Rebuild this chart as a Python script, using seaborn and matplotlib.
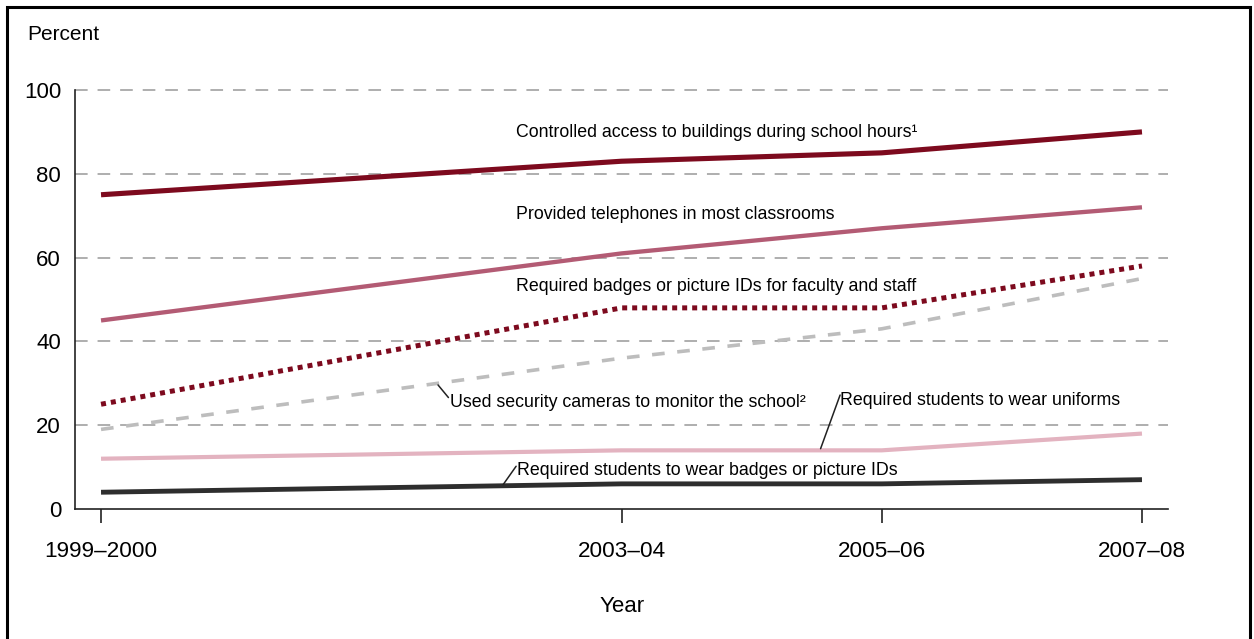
import matplotlib
matplotlib.use("Agg")
import matplotlib.pyplot as plt
import seaborn as sns
import pandas as pd
from matplotlib.patches import Rectangle

# School years and their positions on a numeric time axis
years = ["1999–2000", "2003–04", "2005–06", "2007–08"]
year_pos = [2000, 2004, 2006, 2008]

controlled_access = [75, 83, 85, 90]
telephones = [45, 61, 67, 72]
staff_badges = [25, 48, 48, 58]
cameras = [19, 36, 43, 55]
uniforms = [12, 14, 14, 18]
student_badges = [4, 6, 6, 7]

series_names = [
    "Controlled access to buildings during school hours¹",
    "Provided telephones in most classrooms",
    "Required badges or picture IDs for faculty and staff",
    "Used security cameras to monitor the school²",
    "Required students to wear uniforms",
    "Required students to wear badges or picture IDs",
]
series_values = [controlled_access, telephones, staff_badges, cameras, uniforms, student_badges]

sns.set_style("white")
plt.rcParams["font.family"] = ["Liberation Sans", "DejaVu Sans"]
plt.rcParams["text.color"] = "black"
plt.rcParams["xtick.color"] = "black"
plt.rcParams["ytick.color"] = "black"
plt.rcParams["xtick.labelcolor"] = "black"
plt.rcParams["ytick.labelcolor"] = "black"

fig = plt.figure(figsize=(12.54, 6.39), dpi=100)
ax = fig.add_axes([75 / 1254, 1 - 509 / 639, (1168 - 75) / 1254, (509 - 90) / 639])

styles = [
    dict(color="#7d0a1e", lw=3.7, ls="-"),
    dict(color="#b35b74", lw=3.1, ls="-"),
    dict(color="#7d0a1e", lw=3.6, ls=(0, (1, 1))),
    dict(color="#bdbdbd", lw=2.6, ls=(0, (3.5, 3.5))),
    dict(color="#e3b3c0", lw=3.0, ls="-"),
    dict(color="#2e2e2e", lw=3.5, ls="-"),
]

df = pd.DataFrame({
    "pos": year_pos * len(series_names),
    "value": [v for vals in series_values for v in vals],
    "series": [n for n in series_names for _ in year_pos],
})

# draw from bottom to top so the upper series sit over the lower ones
for name, st in reversed(list(zip(series_names, styles))):
    sub = df[df["series"] == name]
    sns.lineplot(data=sub, x="pos", y="value", ax=ax, color=st["color"],
                 linewidth=st["lw"], linestyle=st["ls"], legend=False,
                 solid_capstyle="butt", dash_capstyle="butt", zorder=3)

ax.set_xlim(1999.8, 2008.2)
ax.set_ylim(0, 100)
ax.set_xticks(year_pos)
ax.set_xticklabels(years)
ax.set_yticks([0, 20, 40, 60, 80, 100])
ax.set_xlabel("")
ax.set_ylabel("")

for yv in [20, 40, 60, 80, 100]:
    ax.axhline(yv, color="#a8a8a8", lw=1.3, ls=(0, (7, 5.5)), zorder=1, clip_on=False)

for side in ["top", "right"]:
    ax.spines[side].set_visible(False)
for side in ["left", "bottom"]:
    ax.spines[side].set_color("#222222")
    ax.spines[side].set_linewidth(1.2)

ax.tick_params(axis="x", direction="out", length=10, width=1.2, color="#222222",
               labelsize=16.2, pad=13, bottom=True)
ax.tick_params(axis="y", length=0, labelsize=16, pad=10, left=False)

# series labels
lab_fs = 12.8
ax.text(2003.19, 89.8, series_names[0], fontsize=lab_fs, va="center", ha="left")
ax.text(2003.19, 70.2, series_names[1], fontsize=lab_fs, va="center", ha="left")
ax.text(2003.19, 53.0, series_names[2], fontsize=lab_fs, va="center", ha="left")
ax.text(2002.68, 25.3, series_names[3], fontsize=lab_fs, va="center", ha="left")
ax.text(2005.68, 25.8, series_names[4], fontsize=lab_fs, va="center", ha="left")
ax.text(2003.20, 9.1, series_names[5], fontsize=lab_fs, va="center", ha="left")

# leader lines from labels to their lines
ax.plot([2002.59, 2002.67], [29.6, 26.6], color="#222222", lw=1.1, zorder=4)
ax.plot([2005.53, 2005.68], [14.4, 27.2], color="#222222", lw=1.1, zorder=4)
ax.plot([2003.09, 2003.19], [5.8, 10.2], color="#222222", lw=1.1, zorder=4)

fig.text(27 / 1254, 1 - 35 / 639, "Percent", fontsize=15, va="center", ha="left")
fig.text(622 / 1254, 1 - 607 / 639, "Year", fontsize=16, va="center", ha="center")

fig.patches.append(Rectangle((7 / 1254, -0.05), (1250 - 7) / 1254, 1.05 - 7 / 639,
                             transform=fig.transFigure, fill=False,
                             edgecolor="black", lw=2.2))

fig.savefig("out.png", dpi=100)
